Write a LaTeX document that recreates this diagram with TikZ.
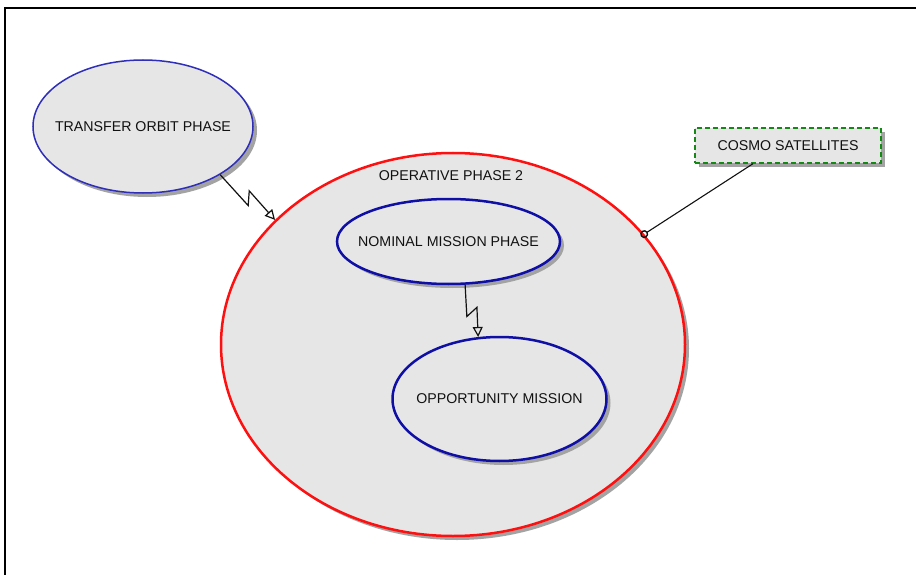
\documentclass[tikz,border=0pt]{standalone}
\usepackage{fontspec}
\setmainfont{Liberation Sans}
\usepackage{xcolor}
\usetikzlibrary{arrows.meta,positioning,calc,shapes.geometric,shadows}
\definecolor{Ink}{HTML}{111111}
\definecolor{Phase}{HTML}{E6E6E6}
\definecolor{Shade}{HTML}{A3A3A3}
\definecolor{Edge}{HTML}{2E2EB8}
\definecolor{Navy}{HTML}{0F0FA5}
\definecolor{Alarm}{HTML}{FF1010}
\definecolor{Forest}{HTML}{138A13}
\tikzset{
  phase/.style={ellipse,draw=Edge,fill=Phase,line width=1.5pt,inner sep=0pt,text=Ink,font=\fontsize{14.2}{17}\selectfont,drop shadow={shadow xshift=4pt,shadow yshift=-4pt,fill=Shade,opacity=1}},
  mission/.style={phase,draw=Navy,line width=2.5pt},
  context/.style={phase,draw=Alarm,line width=2.5pt},
  actor/.style={rectangle,draw=Forest,dash pattern=on 5pt off 3pt,line width=1.4pt,fill=Phase,text=Ink,font=\fontsize{14.2}{17}\selectfont,minimum width=186pt,minimum height=35pt,inner sep=0pt,drop shadow={shadow xshift=4pt,shadow yshift=-4pt,fill=Shade,opacity=1}},
  caption/.style={text=Ink,font=\fontsize{14.2}{17}\selectfont,inner sep=0pt},
  zap/.style={draw=Ink,line width=1.2pt,-{Triangle[open,length=10pt,width=10pt]},
    to path={-- ($(\tikztostart)!0.58!(\tikztotarget)!6pt!-90:(\tikztotarget)$)
      -- ($(\tikztostart)!0.46!(\tikztotarget)!6pt!90:(\tikztotarget)$)
      -- (\tikztotarget) \tikztonodes}},
  link/.style={draw=Ink,line width=1.1pt,-{Circle[open,length=8pt,line width=1.4pt]},shorten >=-4pt},
  frame/.style={draw=black,line width=2pt}
}
\begin{document}
\begin{tikzpicture}[x=1pt,y=-1pt]
  \useasboundingbox[fill=white] (0,0) rectangle (916,575);
  \draw[frame] (5,575) -- (5,8) -- (916,8);

  \node[phase,minimum width=220pt,minimum height=133pt] (transfer) at (143,126.5) {\makebox[0pt]{TRANSFER ORBIT PHASE}};
  \node[context,minimum width=464pt,minimum height=383pt] (oper) at (453,344.5) {};
  \node[caption] (operlabel) at (451,176) {OPERATIVE PHASE 2};
  \node[mission,minimum width=223pt,minimum height=85pt] (nominal) at (448.5,241.5) {\makebox[0pt]{NOMINAL MISSION PHASE}};
  \node[mission,minimum width=214pt,minimum height=124pt] (opportunity) at (499.5,399) {\makebox[0pt]{OPPORTUNITY MISSION}};
  \node[actor] (cosmo) at (788,145.5) {COSMO SATELLITES};

  \draw[zap] (transfer.-32) to (oper.145.5);
  \draw[zap] (nominal.-69) to (opportunity.109.6);
  \draw[link] ([xshift=-35pt]cosmo.south) -- (oper.30);
\end{tikzpicture}
\end{document}
